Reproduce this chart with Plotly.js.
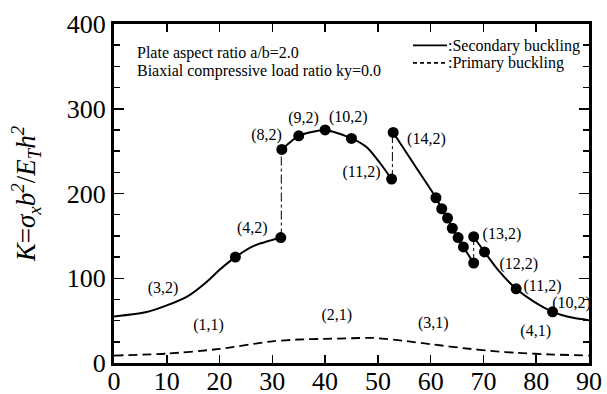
<!DOCTYPE html>
<html>
<head>
<meta charset="utf-8">
<script src="https://cdn.plot.ly/plotly-3.0.1.min.js"></script>
<style>html,body{margin:0;padding:0;background:#fff;}#chart{width:607px;height:394px;}</style>
</head>
<body>
<div id="chart"></div>
<script>
// ---- data ----
// Secondary buckling curve (solid), pieces
const sec1X = [0, 6, 10, 14, 17.6, 20, 23, 26.4, 31.6];
const sec1Y = [55, 60, 68, 79, 96, 110, 125, 138, 148];
const sec2X = [31.8, 35, 40, 45, 48, 50.4, 52.6];
const sec2Y = [252, 268, 275, 265, 254, 236, 217];
const sec3X = [52.9, 57, 61, 62.1, 63.2, 64.1, 65.2, 66.2, 68.15];
const sec3Y = [272, 233, 195, 182, 171, 159, 148, 137, 118];
const sec4X = [68.15, 70.2, 73, 76.2, 79.4, 83.1, 87, 90];
const sec4Y = [149, 131, 108, 87.5, 73, 60.4, 53.3, 50.5];
// Mode jumps (dash-dot)
const jump1X = [31.7, 31.7];
const jump1Y = [148, 252];
const jump2X = [52.75, 52.75];
const jump2Y = [217, 272];
const jump3X = [68.15, 68.15];
const jump3Y = [118, 149];
// Markers
const dotX = [23, 31.6, 31.8, 35, 40, 45, 52.6, 52.9, 61, 62.1, 63.2, 64.1, 65.2, 66.2, 68.15, 68.15, 70.2, 76.2, 83.1];
const dotY = [125, 148, 252, 268, 275, 265, 217, 272, 195, 182, 171, 159, 148, 137, 118, 149, 131, 87.5, 60.4];
// Primary buckling (dashed)
const priX = [0, 10, 20, 30, 35, 40, 45, 49, 55.5, 60.5, 66.8, 71.9, 76.3, 83.2, 90];
const priY = [8.8, 11, 16.6, 25.6, 27.7, 28.5, 29.2, 29.7, 25.7, 21.8, 17.1, 14, 12, 10, 8.8];
// Mode labels
const lblText = ["(3,2)", "(1,1)", "(4,2)", "(8,2)", "(9,2)", "(10,2)", "(11,2)", "(14,2)", "(13,2)", "(12,2)", "(11,2)", "(10,2)", "(2,1)", "(3,1)", "(4,1)"];
const lblX = [9.3, 17.9, 26.2, 28.9, 35.9, 44.4, 46.9, 59.2, 73.5, 76.7, 81.2, 86.7, 42.2, 60.5, 79.9];
const lblY = [87.5, 43.4, 158.7, 267.6, 288.5, 289.3, 224.4, 263.7, 150.8, 116.2, 89.9, 69.8, 55.2, 46.6, 36.4];
// Tick values
const xTicks = [0, 10, 20, 30, 40, 50, 60, 70, 80, 90];
const yTicks = [0, 100, 200, 300, 400];
const infoLines = ["Plate aspect ratio a/b=2.0", "Biaxial compressive load ratio ky=0.0"];
const legendNames = [":Secondary buckling", ":Primary buckling"];

const SERIF = "Liberation Serif";
const solid = {color: "#000", width: 2, shape: "spline", smoothing: 0.6};
const dd = {color: "#000", width: 1, dash: "dashdot"};

const traces = [
  {x: sec1X, y: sec1Y, mode: "lines", line: solid},
  {x: sec2X, y: sec2Y, mode: "lines", line: solid},
  {x: sec3X, y: sec3Y, mode: "lines", line: solid},
  {x: sec4X, y: sec4Y, mode: "lines", line: solid},
  {x: jump1X, y: jump1Y, mode: "lines", line: dd},
  {x: jump2X, y: jump2Y, mode: "lines", line: dd},
  {x: jump3X, y: jump3Y, mode: "lines", line: dd},
  {x: priX, y: priY, mode: "lines", line: {color: "#000", width: 1.8, dash: "9px,5px", shape: "spline", smoothing: 0.6}},
  {x: dotX, y: dotY, mode: "markers", marker: {color: "#000", size: 11}},
  {x: lblX, y: lblY, mode: "text", text: lblText, textposition: "middle center", cliponaxis: true,
   textfont: {family: SERIF, size: 16, color: "#000"}}
];

const px2x = p => (p - 114) / 475;
const py2y = p => (363.5 - p) / 339.5;

const layout = {
  width: 607, height: 394,
  margin: {l: 114, r: 18, t: 24, b: 30.5},
  paper_bgcolor: "#fff", plot_bgcolor: "#fff",
  showlegend: false,
  font: {family: SERIF},
  xaxis: {
    range: [0, 90], tickvals: xTicks,
    ticks: "inside", ticklen: 8, tickwidth: 1.5, tickcolor: "#000",
    showline: true, linewidth: 3, linecolor: "#000", mirror: "allticks",
    showgrid: false, zeroline: false, ticklabelstandoff: -7,
    tickfont: {family: SERIF, size: 26, color: "#000"}
  },
  yaxis: {
    range: [0, 400], tickvals: yTicks,
    ticks: "inside", ticklen: 10, tickwidth: 1.5, tickcolor: "#000",
    minor: {dtick: 25, ticks: "inside", ticklen: 6, tickwidth: 1.5, tickcolor: "#000", showgrid: false},
    showline: true, linewidth: 3, linecolor: "#000", mirror: "allticks",
    showgrid: false, zeroline: false,
    tickfont: {family: SERIF, size: 26, color: "#000"},
    title: {text: "<i>K</i>=<i>σ<sub>x</sub>b<sup>2</sup></i>/<i>E<sub>T</sub>h<sup>2</sup></i>",
            font: {family: SERIF, size: 27, color: "#000"}, standoff: 24}
  },
  shapes: [
    {type: "line", xref: "paper", yref: "paper", x0: px2x(413), x1: px2x(447), y0: py2y(45.5), y1: py2y(45.5), line: {color: "#000", width: 1.8}},
    {type: "line", xref: "paper", yref: "paper", x0: px2x(413), x1: px2x(447), y0: py2y(63), y1: py2y(63), line: {color: "#000", width: 1.8, dash: "4px,3px"}}
  ],
  annotations: [
    {xref: "paper", yref: "paper", x: px2x(135), y: py2y(53.3), xanchor: "left", yanchor: "middle", showarrow: false,
     text: infoLines[0], font: {family: SERIF, size: 16, color: "#000"}},
    {xref: "paper", yref: "paper", x: px2x(135), y: py2y(70.7), xanchor: "left", yanchor: "middle", showarrow: false,
     text: infoLines[1], font: {family: SERIF, size: 16, color: "#000"}},
    {xref: "paper", yref: "paper", x: px2x(446), y: py2y(46), xanchor: "left", yanchor: "middle", showarrow: false,
     text: legendNames[0], font: {family: SERIF, size: 16, color: "#000"}},
    {xref: "paper", yref: "paper", x: px2x(446), y: py2y(63), xanchor: "left", yanchor: "middle", showarrow: false,
     text: legendNames[1], font: {family: SERIF, size: 16, color: "#000"}}
  ]
};

Plotly.newPlot("chart", traces, layout, {displayModeBar: false, staticPlot: true});
</script>
</body>
</html>
